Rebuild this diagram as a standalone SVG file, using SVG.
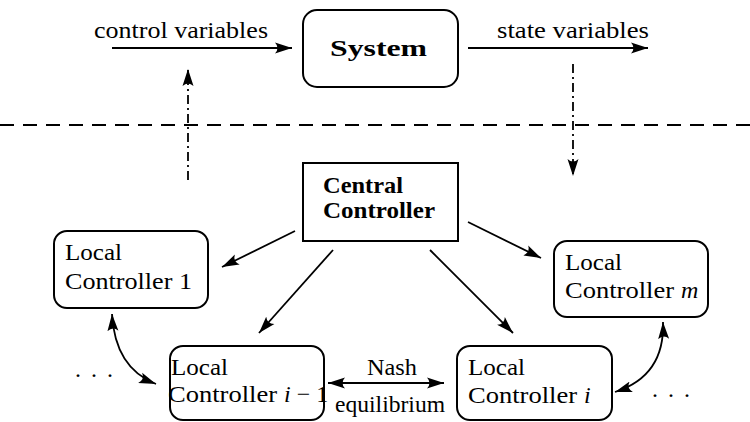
<svg xmlns="http://www.w3.org/2000/svg" width="750" height="422" viewBox="0 0 750 422">
<style>
text{font-family:"Liberation Serif","DejaVu Serif","Times New Roman",serif;font-weight:normal;font-style:normal;fill:#000;font-size:24px}
.b{font-weight:bold}
.it{font-style:italic}
.box{fill:#fff;stroke:#000;stroke-width:2}
.ar{fill:none;stroke:#000;stroke-width:1.8;marker-end:url(#ah)}
.dar{fill:none;stroke:#000;stroke-width:1.8;marker-end:url(#ah);marker-start:url(#ah)}
.dd{fill:none;stroke:#000;stroke-width:1.8;stroke-dasharray:9 4 2 4;marker-end:url(#ah)}
</style>
<defs>
<marker id="ah" markerUnits="userSpaceOnUse" markerWidth="18" markerHeight="12" refX="17" refY="6" orient="auto-start-reverse">
<path d="M0,0.5 L17,6 L0,11.5 Q5,6 0,0.5 z" fill="#000"/>
</marker>
</defs>
<line x1="0" y1="125" x2="750" y2="125" stroke="#000" stroke-width="2" stroke-dasharray="14 9"/>
<g id="system"><rect class="box" x="303" y="10" width="155" height="77" rx="14"/><text class="b" x="330" y="56" font-size="28" textLength="97" lengthAdjust="spacingAndGlyphs">System</text></g>
<g id="central"><rect class="box" x="303" y="163" width="155" height="78"/><text class="b" x="323" y="193" font-size="22" textLength="80" lengthAdjust="spacingAndGlyphs">Central</text><text class="b" x="323" y="218" font-size="22" textLength="112" lengthAdjust="spacingAndGlyphs">Controller</text></g>
<g id="lc1"><rect class="box" x="54" y="231" width="154" height="77" rx="13"/><text x="65" y="260" font-size="25" textLength="57" lengthAdjust="spacingAndGlyphs">Local</text><text x="65" y="289" textLength="127" lengthAdjust="spacingAndGlyphs" font-size="25">Controller 1</text></g>
<g id="lcm"><rect class="box" x="554" y="241" width="154" height="76" rx="13"/><text x="565" y="270" font-size="25" textLength="57" lengthAdjust="spacingAndGlyphs">Local</text><text x="565" y="298" font-size="25" textLength="109" lengthAdjust="spacingAndGlyphs">Controller</text><text class="it" x="681" y="298" font-size="25">m</text></g>
<g id="lci1"><rect class="box" x="170" y="346" width="154" height="74" rx="13"/><text x="171" y="375" font-size="25" textLength="57" lengthAdjust="spacingAndGlyphs">Local</text><text x="168" y="402" font-size="25" textLength="109" lengthAdjust="spacingAndGlyphs">Controller</text><text x="284" y="402" font-size="15"><tspan class="it">i</tspan> − 1</text></g>
<g id="lci"><rect class="box" x="457" y="346" width="155" height="74" rx="13"/><text x="468" y="375" font-size="25" textLength="57" lengthAdjust="spacingAndGlyphs">Local</text><text x="468" y="403" font-size="25" textLength="109" lengthAdjust="spacingAndGlyphs">Controller</text><text class="it" x="584" y="403" font-size="25">i</text></g>
<g id="connectors">
<line class="ar" x1="112" y1="48" x2="292" y2="48"/>
<text x="94" y="38" textLength="174" lengthAdjust="spacingAndGlyphs">control variables</text>
<line class="ar" x1="468" y1="48" x2="648" y2="48"/>
<text x="497" y="38" textLength="152" lengthAdjust="spacingAndGlyphs">state variables</text>
<line class="dd" x1="188" y1="180" x2="188" y2="69"/>
<line class="dd" x1="573" y1="64" x2="573" y2="176"/>
<line class="ar" x1="295" y1="231" x2="222" y2="267"/>
<line class="ar" x1="333" y1="250" x2="259" y2="333"/>
<line class="ar" x1="430" y1="250" x2="513" y2="333"/>
<line class="ar" x1="468" y1="222" x2="541" y2="258"/>
<line class="dar" x1="328" y1="383" x2="444" y2="383"/>
<text x="367" y="375" textLength="50" lengthAdjust="spacingAndGlyphs">Nash</text>
<text x="335" y="412" textLength="110" lengthAdjust="spacingAndGlyphs">equilibrium</text>
<path class="dar" d="M112,314 Q115,368 156,384"/>
<path class="dar" d="M615,392 Q665,376 663,322"/>
<text x="75" y="377" letter-spacing="2">. . .</text>
<text x="652" y="397" letter-spacing="2">. . .</text>
</g>
</svg>
